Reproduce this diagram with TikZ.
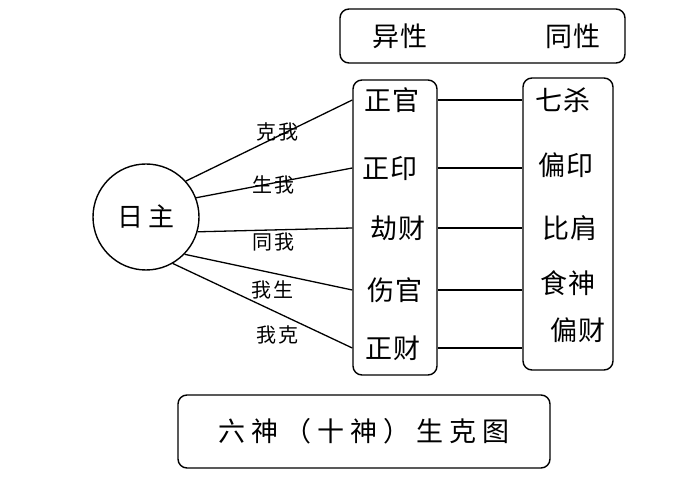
\documentclass[tikz,border=0pt]{standalone}
\usepackage{fontspec}
\newfontfamily\cjk{Noto Sans CJK SC}

\begin{document}
\begin{tikzpicture}[x=1pt,y=-1pt]
        \tikzset{every node/.style={font=\cjk\fontsize{27}{27}\selectfont\addfontfeature{LetterSpace=6},inner sep=0pt},
          box/.style={draw,line width=1.4pt,rounded corners=9pt},
          rel/.style={font=\cjk\fontsize{20}{20}\selectfont\addfontfeature{LetterSpace=10}},
          link/.style={draw,line width=1.3pt}}
        \useasboundingbox (0,0) rectangle (686,481);
        % boxes
        \node[box,minimum width=285pt,minimum height=54pt] (sex) at (482.5,36) {};
        \node (yixing) at (400,36) {异性};
        \node (tongxing) at (573,36) {同性};
        \node[box,minimum width=84pt,minimum height=295pt] (lbox) at (395,227.5) {};
        \node[box,minimum width=90pt,minimum height=292pt] (rbox) at (568,224) {};
        \node[box,minimum width=372pt,minimum height=73pt,
          font=\cjk\fontsize{27}{27}\selectfont\addfontfeature{LetterSpace=22}] (title) at (364,431.5) {六神（十神）生克图};
        % day master
        \node[draw,circle,line width=1.4pt,minimum size=106pt,
          font=\cjk\fontsize{26}{26}\selectfont\addfontfeature{LetterSpace=22}] (rz) at (146,217) {日主};
        % left column
        \node (zg) at (392,100) {正官};
        \node (zy) at (390,168) {正印};
        \node (jc) at (398,228) {劫财};
        \node (sg) at (395,290) {伤官};
        \node (zc) at (393,348) {正财};
        % right column
        \node (qs) at (563,100) {七杀};
        \node (py) at (566,165) {偏印};
        \node (bj) at (570,228) {比肩};
        \node (ss) at (568,283) {食神};
        \node (pc) at (578,330) {偏财};
        % relations
        \draw[link] (rz.42) -- (lbox.west |- zg);
        \draw[link] (rz.21) -- (lbox.west |- zy);
        \draw[link] (rz.-16) -- (lbox.west |- jc);
        \draw[link] (rz.-44) -- (lbox.west |- sg);
        \draw[link] (rz.-60) -- (lbox.west |- zc);
        \node[rel] (kw) at (277,132) {克我};
        \node[rel] (sw) at (273,185) {生我};
        \node[rel] (tw) at (273,242) {同我};
        \node[rel] (ws) at (272,290) {我生};
        \node[rel] (wk) at (277,335) {我克};
        \foreach \a in {zg,zy,jc,sg,zc}
          \draw[link] (lbox.east |- \a) -- (rbox.west |- \a);
      \end{tikzpicture}
\end{document}
